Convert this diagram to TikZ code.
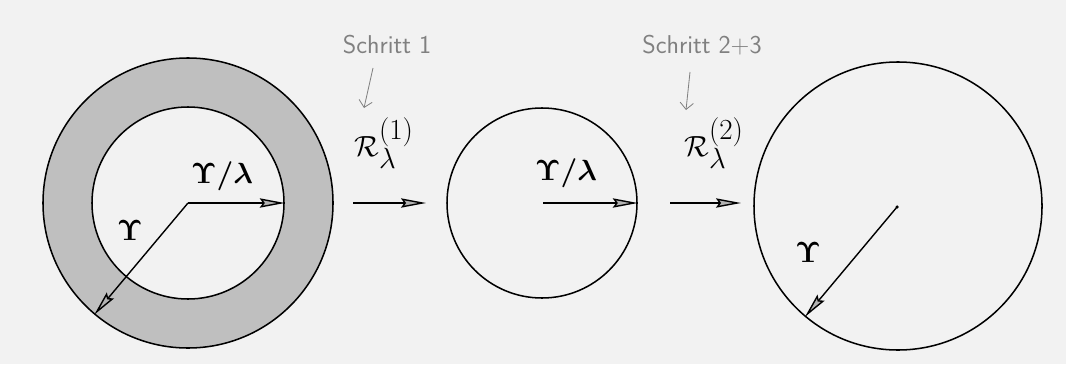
\documentclass[tikz,border=0pt]{standalone}
\usepackage{bm}
\usetikzlibrary{arrows.meta}
\begin{document}
\begin{tikzpicture}[x=0.03cm,y=-0.03cm,
  ringshape/.style={circle,draw=black,line width=1.3pt,inner sep=0pt},
  radarrow/.style={line width=1.2pt,-{Stealth[length=0.75cm,width=0.28cm,inset=0.1cm,fill=gray!60]}},
  maparrow/.style={line width=1.2pt,-{Stealth[length=0.75cm,width=0.28cm,inset=0.1cm,fill=gray!60]}},
  notetext/.style={text=black!50,font=\sffamily\fontsize{22}{26}\selectfont},
  notearrow/.style={draw=black!50,line width=0.7pt,-{Straight Barb[length=0.2cm]}},
  mathlabel/.style={font=\fontsize{25}{30}\selectfont},
  maplabel/.style={font=\fontsize{38}{44}\selectfont}]
\fill[black!5] (0,0) rectangle (1066,364);
\useasboundingbox (0,0) rectangle (1066,364);
% left ring
\node[ringshape,fill=gray!50,minimum size=8.7cm] (outer) at (188,203) {};
\node[ringshape,fill=black!5,minimum size=5.76cm] (inner) at (188,203) {};
\coordinate (c1) at (188,203);
\draw[radarrow] (c1) -- (inner.east);
\draw[radarrow] (c1) -- (outer.230);
\node[mathlabel] (l1) at (222,176) {$\bm{\Upsilon/\lambda}$};
\node[mathlabel] (l2) at (130,230) {$\bm{\Upsilon}$};
% first map
\coordinate (a1s) at (353,203);
\coordinate (a1e) at (426,203);
\draw[maparrow] (a1s) -- (a1e);
\node[maplabel] (R1) at (384,143) {$\mathcal{R}^{(1)}_{\lambda}$};
\node[notetext] (s1) at (387,45) {Schritt 1};
\coordinate (s1a) at (373,68);
\coordinate (s1b) at (364,108);
\draw[notearrow] (s1a) -- (s1b);
% middle circle
\node[ringshape,minimum size=5.7cm] (mid) at (542,203) {};
\coordinate (c2) at (543,203);
\draw[radarrow] (c2) -- (mid.east);
\node[mathlabel] (l3) at (566,173) {$\bm{\Upsilon/\lambda}$};
% second map
\coordinate (a2s) at (670,203);
\coordinate (a2e) at (741,203);
\draw[maparrow] (a2s) -- (a2e);
\node[maplabel] (R2) at (714,143) {$\mathcal{R}^{(2)}_{\lambda}$};
\node[notetext] (s2) at (702,45) {Schritt 2+3};
\coordinate (s2a) at (690,72);
\coordinate (s2b) at (686,110);
\draw[notearrow] (s2a) -- (s2b);
% right circle
\node[ringshape,minimum size=8.64cm] (big) at (898,206) {};
\coordinate (c3) at (897,207);
\fill (c3) circle (1.5pt);
\draw[radarrow] (c3) -- (big.230);
\node[mathlabel] (l4) at (808,252) {$\bm{\Upsilon}$};
\end{tikzpicture}
\end{document}
